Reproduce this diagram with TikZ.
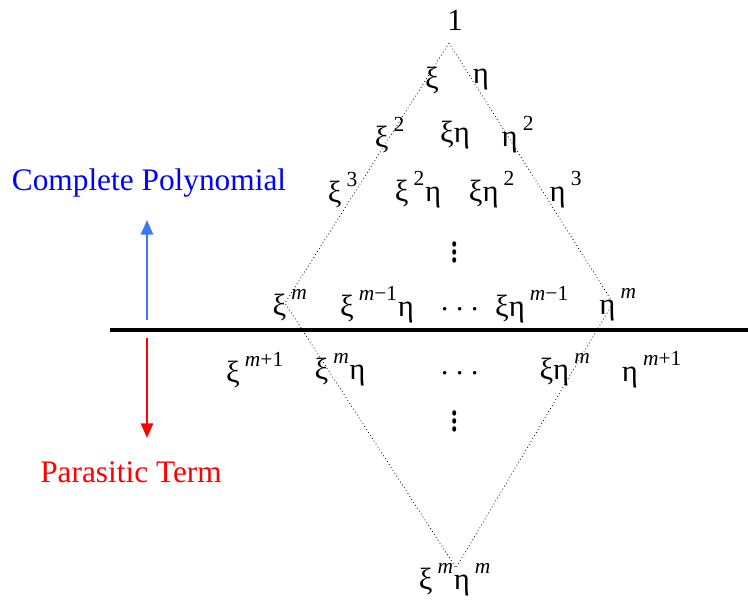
\documentclass[tikz,border=0pt]{standalone}
\usepackage{fontspec}
\setmainfont{Liberation Serif}
\usetikzlibrary{arrows.meta}
\definecolor{upBlue}{HTML}{3A78FF}
\definecolor{labelBlue}{HTML}{0000FF}
\definecolor{downRed}{HTML}{FF0000}
\newcommand{\pw}[1]{\,\raisebox{0.12em}{\textsuperscript{#1}}}
\newcommand{\im}{\textit{m}}
\newcommand{\vdts}{\scalebox{1.1}[1.5]{$\vdots$}}
\tikzset{
  term/.style={inner sep=0pt, font=\fontsize{23}{25}\selectfont},
  sidelabel/.style={inner sep=0pt, font=\fontsize{23.5}{26}\selectfont},
  edge/.style={dotted, line width=0.6pt}
}

\begin{document}
\begin{tikzpicture}[x=0.75pt, y=-0.75pt]
    \useasboundingbox (0,0) rectangle (748,606);

    % rombo
    \coordinate (top) at (449,43);
    \coordinate (lft) at (285,303);
    \coordinate (rgt) at (613,303);
    \coordinate (bot) at (456,568);
    \draw[edge] (top) -- (lft) -- (bot) -- (rgt) -- cycle;

    % línea de corte
    \coordinate (cutL) at (110,330);
    \coordinate (cutR) at (748,330);
    \draw[line width=2.6pt] (cutL) -- (cutR);

    % términos
    \node[term] (one) at (455,20) {1};
    \node[term] (x1) at (432,80) {ξ};
    \node[term] (y1) at (481,80) {η};
    \node[term] (x2) at (390,135) {ξ\pw{2}};
    \node[term] (xy) at (455,135) {ξη};
    \node[term] (y2) at (518,135) {η\pw{2}};
    \node[term] (x3) at (343,190) {ξ\pw{3}};
    \node[term] (x2y) at (418,190) {ξ\pw{2}η};
    \node[term] (xy2) at (492,190) {ξη\pw{2}};
    \node[term] (y3) at (566,190) {η\pw{3}};
    \node[term] (vdA) at (455,246) {\vdts};
    \node[term] (xm) at (290,305) {ξ\pw{\im}};
    \node[term] (xmy) at (377,305) {ξ\pw{\im−1}η};
    \node[term] (cdA) at (460,310) {$\cdots$};
    \node[term] (xym) at (532,305) {ξη\pw{\im−1}};
    \node[term] (ym) at (618,305) {η\pw{\im}};
    \node[term] (xmp) at (255,370) {ξ\pw{\im+1}};
    \node[term] (xmyB) at (340,370) {ξ\pw{\im}η};
    \node[term] (cdB) at (460,374) {$\cdots$};
    \node[term] (xymB) at (565,370) {ξη\pw{\im}};
    \node[term] (ymp) at (652,370) {η\pw{\im+1}};
    \node[term] (vdB) at (455,415) {\vdts};
    \node[term] (xmym) at (455,580) {ξ\pw{\im}η\pw{\im}};

    % flechas
    \coordinate (upS) at (147,320);
    \coordinate (upE) at (147,220);
    \coordinate (dnS) at (147,338);
    \coordinate (dnE) at (147,438);
    \draw[-{Triangle[length=11pt, width=9pt]}, upBlue, line width=2pt] (upS) -- (upE);
    \draw[-{Triangle[length=11pt, width=9pt]}, downRed, line width=2pt] (dnS) -- (dnE);
    \node[sidelabel, labelBlue] (cp) at (149,183) {Complete Polynomial};
    \node[sidelabel, downRed] (pt) at (131,472) {Parasitic Term};
\end{tikzpicture}
\end{document}
